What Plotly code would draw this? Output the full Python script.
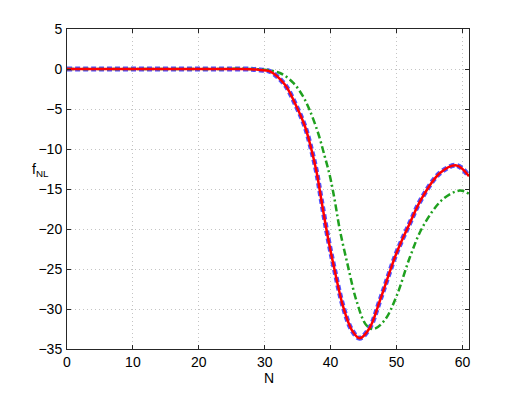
"""Recreation of a MATLAB-style f_NL vs N line chart."""

import plotly.graph_objects as go

# red solid / blue dashed (nearly identical curves)
n_red = [0, 5, 10, 15, 20, 25, 28, 29.3, 30.8, 33.05, 34.8, 36.1, 37.1, 37.9,
         38.6, 39.6, 40.6, 41.9, 43.2, 44.4, 45.9, 47.5, 50.0, 52.0, 53.8,
         56.6, 59.1, 61]
f_red = [0, 0, 0, 0, 0, 0, -0.02, -0.12, -0.3, -1.95, -4.66, -7.16, -10.1,
         -13.0, -16.4, -21.1, -25.1, -29.7, -32.6, -33.65, -32.4, -28.9,
         -23.0, -19.3, -16.2, -13.0, -12.05, -13.4]

# green dash-dot
n_green = [0, 10, 20, 28, 30, 32.3, 34.3, 35.8, 36.8, 38.1, 39.1, 39.9, 40.6,
           41.4, 42.65, 43.9, 45.4, 46.5, 48.2, 50.0, 52.0, 54.0, 57.0, 59.6, 61]
f_green = [0, 0, 0, 0, -0.1, -0.5, -1.7, -3.4, -5.1, -8.0, -10.9, -13.4,
           -16.3, -20.1, -24.7, -28.9, -32.0, -32.5, -31.4, -28.4, -23.6,
           -19.7, -16.3, -15.2, -15.6]

x_ticks = [0, 10, 20, 30, 40, 50, 60]
y_ticks = [5, 0, -5, -10, -15, -20, -25, -30, -35]

FONT = "Liberation Sans, Arial, sans-serif"

fig = go.Figure()
fig.add_trace(go.Scatter(
    x=n_red, y=f_red, mode="lines", line_shape="spline",
    line={"color": "#5050ff", "width": 5, "dash": "5px,3px"},
))
fig.add_trace(go.Scatter(
    x=n_green, y=f_green, mode="lines", line_shape="spline",
    line={"color": "#1fa01f", "width": 2.5, "dash": "7px,3px,2px,3px"},
))
fig.add_trace(go.Scatter(
    x=n_red, y=f_red, mode="lines", line_shape="spline",
    line={"color": "#ff0000", "width": 2.5},
))

axis_common = dict(
    showgrid=True, gridcolor="#c4c4c4", griddash="1px,3px", gridwidth=1,
    showline=True, linecolor="#262626", linewidth=1, mirror="ticks",
    ticks="inside", ticklen=4, tickcolor="#262626", zeroline=False,
    automargin=False,
    tickfont={"family": FONT, "size": 14, "color": "#000000"},
)
fig.update_xaxes(range=[0, 61], tickvals=x_ticks, ticklabelstandoff=0,
                 **axis_common)
fig.update_yaxes(range=[-35, 5], tickvals=y_ticks, ticklabelstandoff=1,
                 **axis_common)

fig.add_annotation(
    text="N", xref="paper", yref="paper", x=0.502, y=-0.06,
    xanchor="center", yanchor="top", showarrow=False,
    font={"family": FONT, "size": 14, "color": "#000000"},
)
fig.add_annotation(
    text="f<sub>NL</sub>", xref="paper", yref="paper", x=-0.04, y=0.56,
    xanchor="right", yanchor="middle", showarrow=False,
    font={"family": FONT, "size": 14, "color": "#000000"},
)

fig.update_layout(
    width=518, height=393,
    margin={"l": 67, "r": 49, "t": 29, "b": 44},
    paper_bgcolor="#ffffff", plot_bgcolor="#ffffff",
    showlegend=False,
)

# the page's default body margin would shift the figure by 8px
fig.write_html("out.html", config={"displayModeBar": False},
               post_script="document.body.style.margin='0';")
